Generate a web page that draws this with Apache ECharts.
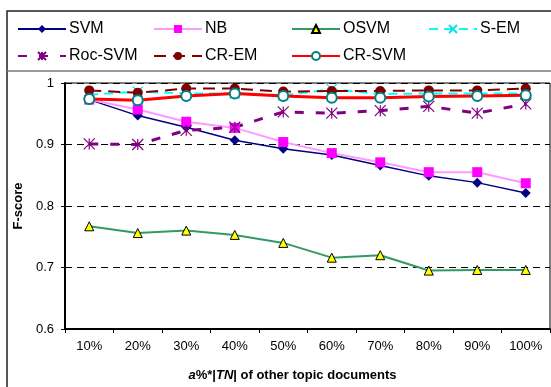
<!DOCTYPE html>
<html>
<head>
<meta charset="utf-8">
<script src="https://cdn.jsdelivr.net/npm/echarts@6/dist/echarts.min.js"></script>
<style>
  html, body { margin: 0; padding: 0; background: #fff; }
  #chart { width: 551px; height: 387px; }
</style>
</head>
<body>
<div id="chart"></div>
<script>
// Share of other-topic documents added to the unlabeled set
const categories = ['10%', '20%', '30%', '40%', '50%', '60%', '70%', '80%', '90%', '100%'];

// F-score per method
const svm    = [0.973, 0.947, 0.928, 0.907, 0.893, 0.883, 0.866, 0.849, 0.838, 0.821];
const nb     = [0.973, 0.957, 0.937, 0.927, 0.904, 0.886, 0.871, 0.855, 0.855, 0.837];
const osvm   = [0.767, 0.756, 0.760, 0.753, 0.740, 0.716, 0.720, 0.695, 0.696, 0.696];
const sem    = [0.981, 0.986, 0.983, 0.983, 0.980, 0.990, 0.982, 0.983, 0.983, 0.983];
const rocSvm = [0.901, 0.900, 0.923, 0.928, 0.953, 0.951, 0.955, 0.962, 0.951, 0.966];
const crEm   = [0.988, 0.984, 0.991, 0.991, 0.986, 0.987, 0.987, 0.988, 0.988, 0.991];
const crSvm  = [0.974, 0.972, 0.979, 0.983, 0.979, 0.976, 0.976, 0.978, 0.979, 0.980];

// Y axis ticks
const yTicks = [0.6, 0.7, 0.8, 0.9, 1];

const FONT = '"Liberation Sans", Arial, sans-serif';
const crossSymbol = 'path://M0,0L10,10M10,0L0,10';
const starSymbol = 'path://M5,0L5,10M0,0L10,10M10,0L0,10';

const chart = echarts.init(document.getElementById('chart'), null, { renderer: 'canvas' });

function legendBlock(left, names) {
  return {
    left: left, top: 16, orient: 'vertical',
    itemWidth: 48, itemHeight: 10, itemGap: 11,
    textStyle: { fontFamily: FONT, fontSize: 16, color: '#000', padding: [0, 0, 0, -2] },
    data: names
  };
}

chart.setOption({
  animation: false,
  backgroundColor: '#fff',
  textStyle: { fontFamily: FONT },
  graphic: [
    { type: 'rect', silent: true, z: -1,
      shape: { x: 7, y: 11, width: 560, height: 400 },
      style: { fill: 'none', stroke: '#222', lineWidth: 1.5 } },
    { type: 'line', silent: true, z: -1,
      shape: { x1: 7, y1: 71, x2: 551, y2: 71 },
      style: { stroke: '#777', lineWidth: 1.5 } }
  ],
  legend: [
    legendBlock(12, ['SVM', 'Roc-SVM']),
    legendBlock(148, ['NB', 'CR-EM']),
    legendBlock(286, ['OSVM', 'CR-SVM']),
    legendBlock(423, ['S-EM'])
  ],
  grid: { left: 65, right: 1, top: 83, bottom: 54, show: true, borderColor: '#000', borderWidth: 1 },
  xAxis: {
    type: 'category',
    data: categories,
    boundaryGap: true,
    axisLine: { lineStyle: { color: '#000', width: 2 } },
    axisTick: { show: true, inside: false, length: 4, lineStyle: { color: '#000' }, alignWithLabel: false },
    axisLabel: { fontFamily: FONT, fontSize: 13, color: '#000', margin: 11 },
    name: '{i|a}{b|%*|}{i|TN}{b|| of other topic documents}',
    nameLocation: 'middle',
    nameGap: 40,
    nameTextStyle: {
      padding: [0, 30, 0, 0],
      rich: {
        i: { fontFamily: FONT, fontSize: 13, fontWeight: 'bold', fontStyle: 'italic', color: '#000' },
        b: { fontFamily: FONT, fontSize: 13, fontWeight: 'bold', color: '#000' }
      }
    }
  },
  yAxis: {
    type: 'value',
    min: 0.6, max: 1, interval: 0.1,
    axisLine: { show: true, lineStyle: { color: '#000', width: 2 } },
    axisTick: { show: true, length: 4, lineStyle: { color: '#000' } },
    axisLabel: {
      fontFamily: FONT, fontSize: 13, color: '#000', margin: 11,
      formatter: v => {
        const t = yTicks.find(k => Math.abs(k - v) < 1e-6);
        return t === 1 ? '1' : t.toFixed(1);
      }
    },
    splitLine: {
      show: true,
      lineStyle: { color: '#000', type: [7, 5], width: 1 }
    },
    name: 'F-score',
    nameLocation: 'middle',
    nameGap: 38,
    nameTextStyle: { fontFamily: FONT, fontSize: 13, fontWeight: 'bold', color: '#000' }
  },
  series: [
    {
      name: 'SVM', type: 'line', data: svm,
      symbol: 'diamond', symbolSize: 10,
      lineStyle: { color: '#000080', width: 1.5 },
      itemStyle: { color: '#000080' }
    },
    {
      name: 'NB', type: 'line', data: nb,
      symbol: 'rect', symbolSize: 10,
      lineStyle: { color: '#FF99FF', width: 2 },
      itemStyle: { color: '#FF00FF' }
    },
    {
      name: 'OSVM', type: 'line', data: osvm,
      symbol: 'triangle', symbolSize: 9,
      lineStyle: { color: '#339966', width: 2 },
      itemStyle: { color: '#FFFF00', borderColor: '#000', borderWidth: 1 }
    },
    {
      name: 'S-EM', type: 'line', data: sem,
      symbol: crossSymbol, symbolSize: 10,
      lineStyle: { color: '#00FFFF', width: 2, type: [9, 6] },
      itemStyle: { color: 'rgba(0,0,0,0)', borderColor: '#00E5E5', borderWidth: 1.2 }
    },
    {
      name: 'Roc-SVM', type: 'line', data: rocSvm,
      symbol: starSymbol, symbolSize: 11,
      lineStyle: { color: '#800080', width: 3, type: [9, 12] },
      itemStyle: { color: 'rgba(0,0,0,0)', borderColor: '#800080', borderWidth: 1.2 }
    },
    {
      name: 'CR-EM', type: 'line', data: crEm,
      symbol: 'circle', symbolSize: 10,
      lineStyle: { color: '#800000', width: 2, type: [12, 7] },
      itemStyle: { color: '#800000' }
    },
    {
      name: 'CR-SVM', type: 'line', data: crSvm,
      symbol: 'emptyCircle', symbolSize: 10,
      lineStyle: { color: '#FF0000', width: 3 },
      itemStyle: { color: '#008080', borderColor: '#008080', borderWidth: 1 }
    }
  ]
});
</script>
</body>
</html>
